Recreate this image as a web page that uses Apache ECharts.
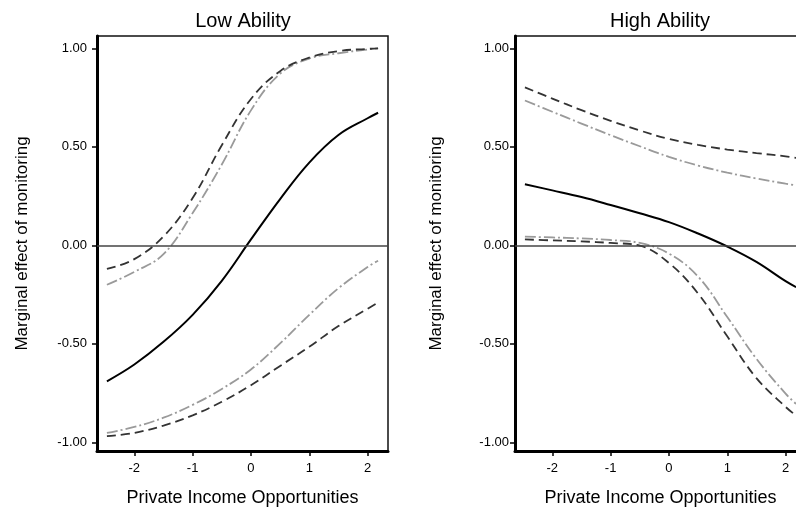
<!DOCTYPE html>
<html>
<head>
<meta charset="utf-8">
<script src="https://cdn.jsdelivr.net/npm/echarts@6/dist/echarts.min.js"></script>
<style>
  html, body { margin: 0; padding: 0; background: #fff; }
  #chart { width: 796px; height: 513px; }
</style>
</head>
<body>
<div id="chart"></div>
<script>
// Private income opportunities (standardised) at which the effects are evaluated
const incomeGrid = [-2.47, -2, -1.5, -1, -0.5, 0, 0.5, 1, 1.5, 2, 2.18];

// Low ability: marginal effect of monitoring with 95% and 90% bounds
const lowEffect     = [-0.69, -0.605, -0.49, -0.353, -0.18, 0.03, 0.235, 0.42, 0.56, 0.645, 0.673];
const lowCi95Upper  = [-0.12, -0.07, 0.045, 0.24, 0.508, 0.743, 0.884, 0.953, 0.986, 0.997, 1.0];
const lowCi90Upper  = [-0.2, -0.135, -0.045, 0.164, 0.41, 0.685, 0.871, 0.948, 0.975, 0.994, 1.0];
const lowCi90Lower  = [-0.952, -0.922, -0.875, -0.81, -0.729, -0.63, -0.498, -0.353, -0.218, -0.11, -0.078];
const lowCi95Lower  = [-0.969, -0.952, -0.915, -0.863, -0.794, -0.71, -0.612, -0.515, -0.41, -0.322, -0.29];

// High ability
const highEffect    = [0.31, 0.279, 0.245, 0.205, 0.163, 0.118, 0.06, -0.006, -0.084, -0.182, -0.212];
const highCi95Upper = [0.802, 0.745, 0.686, 0.632, 0.583, 0.54, 0.51, 0.486, 0.468, 0.452, 0.444];
const highCi90Upper = [0.735, 0.678, 0.618, 0.559, 0.503, 0.449, 0.405, 0.369, 0.339, 0.313, 0.305];
const highCi90Lower = [0.044, 0.04, 0.035, 0.027, 0.012, -0.042, -0.159, -0.364, -0.576, -0.753, -0.805];
const highCi95Lower = [0.03, 0.025, 0.02, 0.012, -0.002, -0.09, -0.245, -0.462, -0.674, -0.82, -0.864];

// Axis ticks and labels
const xTicks = [-2, -1, 0, 1, 2];
const yTicks = [-1, -0.5, 0, 0.5, 1];
const panelTitles = ['Low Ability', 'High Ability'];
const xTitle = 'Private Income Opportunities';
const yTitle = 'Marginal effect of monitoring';

const FONT = '"Liberation Sans", Arial, Helvetica, sans-serif';
const pair = ys => incomeGrid.map((x, i) => [x, ys[i]]);

const styles = {
  effect: { color: '#000000', width: 2, type: 'solid' },
  ci95:   { color: '#333333', width: 1.8, type: [9, 5] },
  ci90:   { color: '#9a9a9a', width: 1.8, type: [11, 3, 2, 3] }
};

function line(idx, ys, style, extra) {
  return Object.assign({
    type: 'line',
    xAxisIndex: idx,
    yAxisIndex: idx,
    data: pair(ys),
    smooth: 0.4,
    symbol: 'none',
    silent: true,
    lineStyle: Object.assign({}, style, { cap: 'butt' }),
    z: 3
  }, extra || {});
}

const zeroLine = {
  silent: true,
  symbol: 'none',
  label: { show: false },
  lineStyle: { color: '#444', width: 1.5, type: 'solid' },
  data: [{ yAxis: 0 }]
};

// The second panel runs past the right edge of the canvas
const grids = [
  { left: 97, top: 36, width: 291, height: 415 },
  { left: 515, top: 36, width: 291, height: 415 }
];

function xAxis(idx) {
  return {
    type: 'value', gridIndex: idx, min: -2.64, max: 2.35,
    name: xTitle, nameLocation: 'middle', nameGap: 38,
    nameTextStyle: { fontSize: 18, color: '#000', fontFamily: FONT },
    axisLine: { show: true, onZero: false, lineStyle: { color: '#000', width: 3 } },
    axisTick: { show: true, length: 5, customValues: xTicks, lineStyle: { color: '#000', width: 1.5 } },
    axisLabel: { customValues: xTicks, fontSize: 13, color: '#000', margin: 11, fontFamily: FONT,
                 formatter: v => String(v) },
    splitLine: { show: false }
  };
}

function yAxis(idx, gap, margin) {
  return {
    type: 'value', gridIndex: idx, min: -1.044, max: 1.0625,
    name: yTitle, nameLocation: 'middle', nameRotate: 90, nameGap: gap,
    nameTextStyle: { fontSize: 17, color: '#000', fontFamily: FONT },
    axisLine: { show: true, onZero: false, lineStyle: { color: '#000', width: 3 } },
    axisTick: { show: true, length: 5, customValues: yTicks, lineStyle: { color: '#000', width: 1.5 } },
    axisLabel: { customValues: yTicks, fontSize: 13, color: '#000', margin: margin, fontFamily: FONT,
                 formatter: v => v.toFixed(2) },
    splitLine: { show: false }
  };
}

const option = {
  animation: false,
  backgroundColor: '#fff',
  textStyle: { fontFamily: FONT },
  grid: grids.map(g => Object.assign({
    show: true, borderColor: '#111', borderWidth: 1.5,
    containLabel: false, outerBoundsMode: 'none'
  }, g)),
  xAxis: [xAxis(0), xAxis(1)],
  yAxis: [yAxis(0, 66, 10), yAxis(1, 70, 6)],
  graphic: [
    { type: 'text', x: 243, y: 21, style: { text: panelTitles[0], textAlign: 'center', textVerticalAlign: 'middle', fontSize: 20, fill: '#000', fontFamily: FONT } },
    { type: 'text', x: 660, y: 21, style: { text: panelTitles[1], textAlign: 'center', textVerticalAlign: 'middle', fontSize: 20, fill: '#000', fontFamily: FONT } }
  ],
  series: [
    line(0, lowCi90Upper, styles.ci90),
    line(0, lowCi90Lower, styles.ci90),
    line(0, lowCi95Upper, styles.ci95),
    line(0, lowCi95Lower, styles.ci95),
    line(0, lowEffect, styles.effect, { markLine: zeroLine, z: 4 }),
    line(1, highCi90Upper, styles.ci90),
    line(1, highCi90Lower, styles.ci90),
    line(1, highCi95Upper, styles.ci95),
    line(1, highCi95Lower, styles.ci95),
    line(1, highEffect, styles.effect, { markLine: zeroLine, z: 4 })
  ]
};

const chart = echarts.init(document.getElementById('chart'), null, { renderer: 'canvas' });
chart.setOption(option);
</script>
</body>
</html>
